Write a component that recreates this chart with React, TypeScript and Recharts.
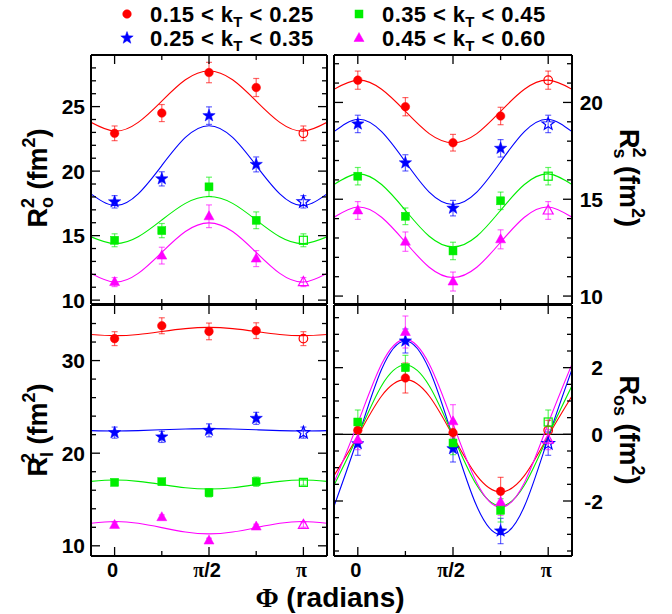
import React from "react";
import { ComposedChart, Line, Scatter, XAxis, YAxis, ErrorBar, ReferenceLine } from "recharts";

const measPhi = [0, 1, 2, 3, 4].map((k) => (k * Math.PI) / 4);
const fitPhi = [-1, 0, 1, 2, 3, 4, 5, 6, 7, 8, 9].map((k) => (k * Math.PI) / 8);
// the point at Φ = π is the reflected Φ = 0 point (open symbol)
const reflected = [false, false, false, false, true];

const binEdges = ["0.15", "0.25", "0.35", "0.45", "0.60"];
const colors = ["#ff0000", "#0000ff", "#00ee00", "#ff00ff"];
const shapes = ["circle", "star", "square", "triangle"];

const xTicks = [0, 1, 2, 3, 4].map((k) => (k * Math.PI) / 4);
const xMajors = [0, Math.PI / 2, Math.PI];
const xMajorLabels = ["0", "π/2", "π"];

// R_o^2 (top left)
const roPoints = [
  [22.93, 24.5, 27.64, 26.48, 22.93],
  [17.62, 19.4, 24.3, 20.52, 17.62],
  [14.64, 15.39, 18.78, 16.19, 14.64],
  [11.4, 13.45, 16.5, 13.22, 11.4],
];
const roErrors = [
  [0.57, 0.66, 0.79, 0.7, 0.57],
  [0.48, 0.55, 0.68, 0.58, 0.48],
  [0.5, 0.55, 0.75, 0.65, 0.5],
  [0.35, 0.65, 0.88, 0.62, 0.35],
];
const roFits = [
  [23.78, 23.1, 23.78, 25.43, 27.08, 27.76, 27.08, 25.43, 23.78, 23.1, 23.78],
  [18.24, 17.33, 18.24, 20.43, 22.61, 23.52, 22.61, 20.43, 18.24, 17.33, 18.24],
  [14.91, 14.38, 14.91, 16.21, 17.5, 18.03, 17.5, 16.21, 14.91, 14.38, 14.91],
  [12.07, 11.4, 12.07, 13.7, 15.32, 15.99, 15.32, 13.7, 12.07, 11.4, 12.07],
];

// R_s^2 (top right)
const rsPoints = [
  [21.15, 19.78, 17.92, 19.3, 21.15],
  [18.89, 16.88, 14.54, 17.63, 18.89],
  [16.19, 14.12, 12.33, 14.92, 16.19],
  [14.42, 12.81, 10.75, 12.93, 14.42],
];
const rsErrors = [
  [0.47, 0.47, 0.43, 0.45, 0.47],
  [0.45, 0.42, 0.4, 0.45, 0.45],
  [0.45, 0.43, 0.45, 0.45, 0.45],
  [0.46, 0.5, 0.49, 0.49, 0.46],
];
const rsFits = [
  [20.68, 21.15, 20.68, 19.54, 18.39, 17.92, 18.39, 19.54, 20.68, 21.15, 20.68],
  [18.49, 19.13, 18.49, 16.93, 15.37, 14.73, 15.37, 16.93, 18.49, 19.13, 18.49],
  [15.76, 16.31, 15.76, 14.43, 13.09, 12.54, 13.09, 14.43, 15.76, 16.31, 15.76],
  [14.07, 14.6, 14.07, 12.78, 11.49, 10.96, 11.49, 12.78, 14.07, 14.6, 14.07],
];

// R_l^2 (bottom left)
const rlPoints = [
  [32.37, 33.76, 33.15, 33.23, 32.37],
  [22.22, 21.76, 22.47, 23.76, 22.22],
  [16.85, 16.92, 15.73, 16.92, 16.85],
  [12.26, 13.09, 10.57, 12.08, 12.26],
];
const rlErrors = [
  [0.75, 0.86, 0.9, 0.85, 0.75],
  [0.6, 0.6, 0.7, 0.65, 0.6],
  [0.3, 0.3, 0.45, 0.5, 0.3],
  [0.25, 0.25, 0.25, 0.25, 0.25],
];
const rlFits = [
  [32.82, 32.69, 32.82, 33.14, 33.45, 33.58, 33.45, 33.14, 32.82, 32.69, 32.82],
  [22.44, 22.4, 22.44, 22.53, 22.61, 22.65, 22.61, 22.53, 22.44, 22.4, 22.44],
  [16.96, 17.1, 16.96, 16.62, 16.27, 16.13, 16.27, 16.62, 16.96, 17.1, 16.96],
  [12.43, 12.62, 12.43, 11.96, 11.49, 11.29, 11.49, 11.96, 12.43, 12.62, 12.43],
];

// R_os^2 (bottom right)
const rosPoints = [
  [0.12, 1.69, 0.05, -1.71, 0.12],
  [-0.28, 2.8, -0.43, -2.9, -0.28],
  [0.37, 2.0, -0.26, -2.28, 0.37],
  [-0.16, 3.07, 0.39, -2.03, -0.16],
];
const rosErrors = [
  [0.3, 0.45, 0.35, 0.42, 0.3],
  [0.35, 0.36, 0.4, 0.38, 0.35],
  [0.36, 0.37, 0.35, 0.35, 0.36],
  [0.3, 0.48, 0.5, 0.4, 0.3],
];
const rosFits = [
  [-1.24, -0.05, 1.15, 1.64, 1.15, -0.05, -1.24, -1.73, -1.24, -0.05, 1.15],
  [-2.16, -0.11, 1.95, 2.8, 1.95, -0.11, -2.16, -3.01, -2.16, -0.11, 1.95],
  [-1.53, -0.04, 1.46, 2.08, 1.46, -0.04, -1.53, -2.15, -1.53, -0.04, 1.46],
  [-1.45, 0.33, 2.11, 2.85, 2.11, 0.33, -1.45, -2.19, -1.45, 0.33, 2.11],
];

const W = 672;
const H = 614;
const FONT = "'Liberation Sans', Arial, Helvetica, sans-serif";
const SERIF = "'Liberation Serif', 'Times New Roman', serif";
const xDomain: [number, number] = [-Math.PI / 8, (9 * Math.PI) / 8];

type Side = "left" | "right" | "top" | "bottom";

function piText(s: string) {
  return s.split(/(π)/).filter(Boolean).map((part, i) =>
    part === "π" ? (
      <tspan key={i} fontFamily={SERIF}>π</tspan>
    ) : (
      <tspan key={i}>{part}</tspan>
    )
  );
}

function AxisTick(props: any) {
  const { x, y, payload, side, majors, labels } = props;
  const v: number = payload.value;
  const mi = majors.findIndex((m: number) => Math.abs(m - v) < 1e-6);
  const len = mi >= 0 ? 9 : 5;
  const text = mi >= 0 && labels ? labels[mi] : null;
  let seg: number[] = [x, y, x, y];
  let label: React.ReactNode = null;
  const style = { fontFamily: FONT, fontWeight: 700, fontSize: 21, fill: "#000" };
  if (side === "left") {
    seg = [x, y, x + len, y];
    if (text) label = <text x={x - 6} y={y} textAnchor="end" dominantBaseline="central" style={style}>{text}</text>;
  } else if (side === "right") {
    seg = [x, y, x - len, y];
    if (text) label = <text x={x + 31} y={y} textAnchor="end" dominantBaseline="central" style={style}>{text}</text>;
  } else if (side === "top") {
    seg = [x, y, x, y + len];
  } else {
    seg = [x, y, x, y - len];
    if (text) label = <text x={x - 2} y={y + 21} textAnchor="middle" style={{ ...style, fontSize: 20 }}>{piText(text)}</text>;
  }
  return (
    <g>
      <line x1={seg[0]} y1={seg[1]} x2={seg[2]} y2={seg[3]} stroke="#000" strokeWidth={1.3} />
      {label}
    </g>
  );
}

function Marker({ cx, cy, kind, color, open }: { cx: number; cy: number; kind: string; color: string; open?: boolean }) {
  const common = { fill: open ? "none" : color, stroke: color, strokeWidth: open ? 1.2 : 0.5 };
  if (kind === "circle") return <circle cx={cx} cy={cy} r={4.3} {...common} />;
  if (kind === "square") return <rect x={cx - 4} y={cy - 4} width={8} height={8} {...common} />;
  if (kind === "triangle")
    return <polygon points={`${cx},${cy - 5.5} ${cx + 5},${cy + 3.5} ${cx - 5},${cy + 3.5}`} {...common} />;
  const pts: string[] = [];
  for (let k = 0; k < 10; k++) {
    const rad = k % 2 ? 2.7 : 6.5;
    const a = -Math.PI / 2 + (k * Math.PI) / 5;
    pts.push(`${cx + rad * Math.cos(a)},${cy + rad * Math.sin(a)}`);
  }
  return <polygon points={pts.join(" ")} {...common} />;
}

interface PanelProps {
  plot: [number, number, number, number];
  yDomain: [number, number];
  yTicks: number[];
  yMajors: number[];
  labelSide: "left" | "right";
  showX: boolean;
  points: number[][];
  errors: number[][];
  fits: number[][];
  zeroLine?: boolean;
}

const frame = { stroke: "#000", strokeWidth: 2 };

function Panel({ plot, yDomain, yTicks, yMajors, labelSide, showX, points, errors, fits, zeroLine }: PanelProps) {
  const [l, t, r, b] = plot;
  const yLabels = yMajors.map(String);
  const tickFn = (side: Side, majors: number[], labels: string[] | null) => (p: any) => (
    <AxisTick {...p} side={side} majors={majors} labels={labels} />
  );
  const axisCommon = { tickSize: 0, tickMargin: 0, tickLine: false, axisLine: frame, interval: 0 as const, allowDataOverflow: true };
  return (
    <div style={{ position: "absolute", left: 0, top: 0 }}>
      <ComposedChart width={W} height={H} margin={{ left: l - 1, top: t - 1, right: W - r - 1, bottom: H - b - 1 }}>
        <XAxis xAxisId="b" type="number" dataKey="phi" domain={xDomain} ticks={xTicks} height={1} {...axisCommon}
          tick={tickFn("bottom", xMajors, showX ? xMajorLabels : null)} />
        <XAxis xAxisId="t" orientation="top" type="number" dataKey="phi" domain={xDomain} ticks={xTicks} height={1} {...axisCommon}
          tick={tickFn("top", xMajors, null)} />
        <YAxis yAxisId="l" type="number" domain={yDomain} ticks={yTicks} width={1} {...axisCommon}
          tick={tickFn("left", yMajors, labelSide === "left" ? yLabels : null)} />
        <YAxis yAxisId="r" orientation="right" type="number" domain={yDomain} ticks={yTicks} width={1} {...axisCommon}
          tick={tickFn("right", yMajors, labelSide === "right" ? yLabels : null)} />
        {zeroLine && <ReferenceLine xAxisId="b" yAxisId="l" y={0} stroke="#000" strokeWidth={1.2} />}
        {fits.map((f, i) => (
          <Line key={`fit${i}`} xAxisId="b" yAxisId="l" data={fitPhi.map((phi, k) => ({ phi, v: f[k] }))}
            dataKey="v" type="natural" stroke={colors[i]} strokeWidth={1.1} dot={false} activeDot={false}
            isAnimationActive={false} />
        ))}
        {points.map((p, i) => (
          <Scatter key={`pts${i}`} xAxisId="b" yAxisId="l"
            data={measPhi.map((phi, k) => ({ phi, v: p[k], err: errors[i][k], open: reflected[k] }))}
            dataKey="v" isAnimationActive={false}
            shape={(s: any) => <Marker cx={s.cx} cy={s.cy} kind={shapes[i]} color={colors[i]} open={s.payload?.open} />}>
            <ErrorBar dataKey="err" direction="y" width={3} stroke={colors[i]} strokeOpacity={0.6} strokeWidth={1.2}
              isAnimationActive={false} />
          </Scatter>
        ))}
      </ComposedChart>
    </div>
  );
}

// R with stacked subscript / superscript, then "(fm²)"
function YTitle({ x, y, rot, sub }: { x: number; y: number; rot: number; sub: string }) {
  const subW = sub.length === 1 ? 11 : 21;
  const supW = 10;
  return (
    <text transform={`translate(${x},${y}) rotate(${rot})`} textAnchor="middle" fontSize={27}>
      R
      <tspan fontSize={18} dy={6}>{sub}</tspan>
      <tspan fontSize={18} dx={-subW} dy={-19}>2</tspan>
      <tspan dx={Math.max(0, subW - supW)} dy={13}> (fm</tspan>
      <tspan fontSize={18} dy={-12}>2</tspan>
      <tspan dy={12}>)</tspan>
    </text>
  );
}

const legendPos = [
  [127, 14],
  [127, 38],
  [359, 14],
  [359, 38],
];

export default function App() {
  const range = (a: number, b: number, s: number) => {
    const out: number[] = [];
    for (let v = a; v <= b + 1e-9; v += s) out.push(Math.round(v * 100) / 100);
    return out;
  };
  return (
    <div style={{ position: "absolute", left: 0, top: 0, width: W, height: H, background: "#fff" }}>
      <Panel plot={[91, 55, 327, 304]} yDomain={[9.7, 29]} yTicks={range(10, 29, 1)} yMajors={[10, 15, 20, 25]}
        labelSide="left" showX={false} points={roPoints} errors={roErrors} fits={roFits} />
      <Panel plot={[334, 55, 572, 304]} yDomain={[9.59, 22.45]} yTicks={range(10, 22, 1)} yMajors={[10, 15, 20]}
        labelSide="right" showX={false} points={rsPoints} errors={rsErrors} fits={rsFits} />
      <Panel plot={[91, 305, 327, 556]} yDomain={[8.9, 36]} yTicks={range(10, 34, 2)} yMajors={[10, 20, 30]}
        labelSide="left" showX points={rlPoints} errors={rlErrors} fits={rlFits} />
      <Panel plot={[334, 305, 572, 556]} yDomain={[-3.65, 3.88]} yTicks={range(-3.5, 3.5, 0.5)} yMajors={[-2, 0, 2]}
        labelSide="right" showX points={rosPoints} errors={rosErrors} fits={rosFits} zeroLine />

      <svg width={W} height={H} style={{ position: "absolute", left: 0, top: 0, pointerEvents: "none" }}
        fontFamily={FONT} fontWeight={700}>
        {legendPos.map(([mx, my], i) => (
          <g key={i}>
            <Marker cx={mx} cy={my} kind={shapes[i]} color={colors[i]} />
            <text x={mx + 23} y={my + 8} fontSize={22} letterSpacing={0.4}>
              {`${binEdges[i]} < k`}
              <tspan fontSize={15} dy={5}>T</tspan>
              <tspan dy={-5}>{` < ${binEdges[i + 1]}`}</tspan>
            </text>
          </g>
        ))}
        <YTitle x={47} y={178} rot={-90} sub="o" />
        <YTitle x={47} y={430} rot={-90} sub="l" />
        <YTitle x={620} y={178} rot={90} sub="s" />
        <YTitle x={620} y={430} rot={90} sub="os" />
        <text x={330} y={607} textAnchor="middle" fontSize={28}>
          <tspan fontFamily={SERIF}>Φ</tspan> (radians)
        </text>
      </svg>
    </div>
  );
}
